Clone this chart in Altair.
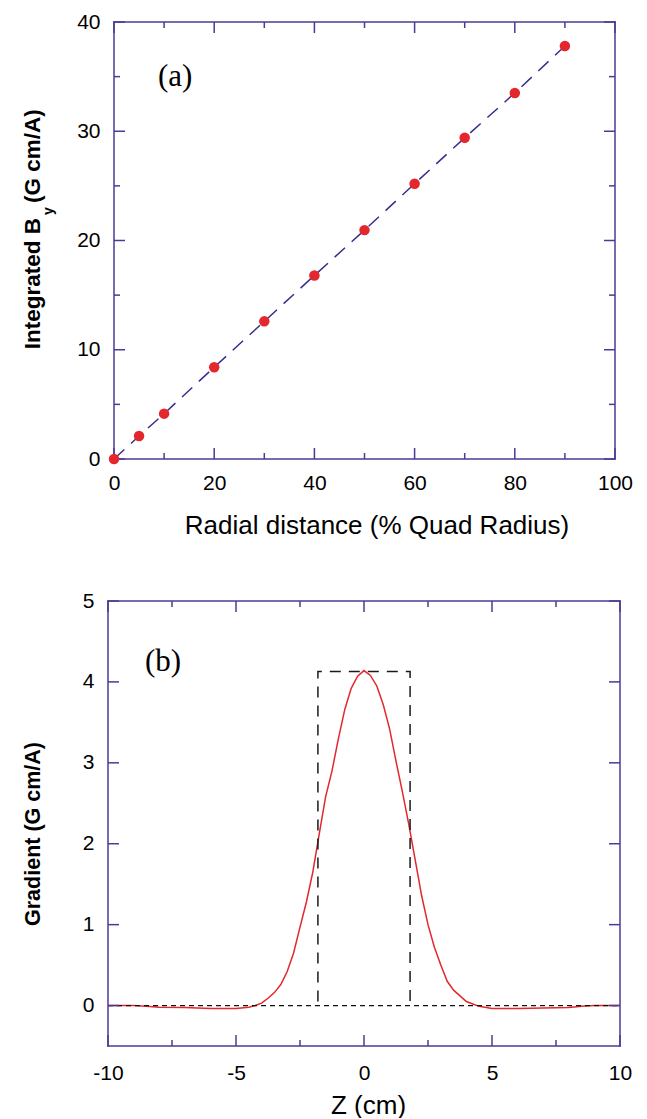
import altair as alt
import pandas as pd

# ---------------- data: panel (a) ----------------
radial_pct = [0, 5, 10, 20, 30, 40, 50, 60, 70, 80, 90]
integrated_by = [0.0, 2.1, 4.15, 8.4, 12.6, 16.8, 20.95, 25.2, 29.4, 33.5, 37.8]

# ---------------- data: panel (b) ----------------
z_cm = [-10, -9, -8.5, -8, -7, -6, -5, -4.5, -4.25, -4, -3.75, -3.5, -3.25, -3,
        -2.75, -2.5, -2.25, -2, -1.75, -1.5, -1.25, -1, -0.75, -0.5, -0.25, 0,
        0.25, 0.5, 0.75, 1, 1.25, 1.5, 1.75, 2, 2.25, 2.5, 2.75, 3, 3.25, 3.5,
        3.75, 4, 4.25, 4.5, 5, 6, 7, 8, 8.5, 9, 10]
gradient = [0, 0, -0.01, -0.02, -0.025, -0.035, -0.035, -0.02, 0.0, 0.03, 0.09,
            0.16, 0.26, 0.42, 0.65, 0.97, 1.28, 1.65, 2.12, 2.58, 2.9, 3.3, 3.66,
            3.92, 4.07, 4.14, 4.08, 3.95, 3.72, 3.42, 3.02, 2.64, 2.24, 1.8, 1.36,
            1.0, 0.72, 0.5, 0.3, 0.19, 0.12, 0.05, 0.02, -0.01, -0.035, -0.035,
            -0.03, -0.025, -0.01, 0, 0]
box_z = [-1.8, -1.8, 1.8, 1.8]
box_g = [0.05, 4.13, 4.13, 0.05]
box_order = [0, 1, 2, 3]
zero_z = [-10, 10]
zero_g = [0, 0]

# axis domains, ticks and labels
a_x_domain = [0, 100]
a_y_domain = [0, 40]
b_x_domain = [-10, 10]
b_y_domain = [-0.5, 5]
a_x_labels = [0, 20, 40, 60, 80, 100]
a_x_minor = [10, 30, 50, 70, 90]
a_y_labels = [0, 10, 20, 30, 40]
a_y_minor = [5, 15, 25, 35]
b_x_labels = [-10, -5, 0, 5, 10]
b_x_minor = [-7.5, -2.5, 2.5, 7.5]
b_y_labels = [0, 1, 2, 3, 4, 5]

panel_a_tag = ["(a)"]
panel_a_tag_x = [12.2]
panel_a_tag_y = [35.0]
panel_b_tag = ["(b)"]
panel_b_tag_x = [-7.85]
panel_b_tag_y = [4.25]

FRAME = "#4b3a96"
LINE = "#3a2c8c"
RED = "#e3272d"
FONT = "Liberation Sans"
SERIF = "Liberation Serif"

# view geometry: panel (a) plot area starts OFF_A px right of the shared column edge
OFF_A = 6
WA, HA = 501, 437
WB, HB = 512, 445
MAJ, MIN = 11, 6


def axis(vals, title, lp, tp, tsize, tx=None, expr=None):
    kw = dict(values=vals, ticks=False, tickSize=0, domain=False, grid=False,
              labelPadding=lp, labelFont=FONT, labelFontSize=21, labelColor="black",
              labelFlush=False, labelOverlap=False)
    if title:
        kw.update(title=title, titlePadding=tp, titleFont=FONT, titleFontSize=tsize,
                  titleFontWeight="normal", titleColor="black")
    else:
        kw.update(title="")
    if tx is not None:
        kw.update(titleX=tx)
    if expr:
        kw.update(labelExpr=expr)
    return alt.Axis(**kw)


hy = "datum.value < 0 ? '-' + abs(datum.value) : '' + datum.value"

xa = alt.Scale(domain=a_x_domain, nice=False, range=[OFF_A, OFF_A + WA])
ya = alt.Scale(domain=a_y_domain, nice=False)
xb = alt.Scale(domain=b_x_domain, nice=False)
yb = alt.Scale(domain=b_y_domain, nice=False)
AXA = axis(a_x_labels, "Radial distance (% Quad Radius)", 13, 19, 26, tx=OFF_A + WA / 2 + 12)
AYA = axis(a_y_labels, None, 14 - OFF_A, 0, 0)
AXB = axis(b_x_labels, "Z (cm)", 16, 9, 26, tx=WB / 2 + 4, expr=hy)
AYB = axis(b_y_labels, None, 14, 0, 0)


def X(field, scale, ax):
    return alt.X(field, scale=scale, axis=ax, title=ax.title)


def Y(field, scale, ax):
    return alt.Y(field, scale=scale, axis=ax, title=ax.title)


def tick_layers(vals, scale, ax, x0, W, H, L, axis_ch):
    d = pd.DataFrame({"v": vals})
    base = alt.Chart(d).mark_rule(color=FRAME, strokeWidth=1.5)
    if axis_ch == "x":
        enc = X("v:Q", scale, ax)
        return [base.encode(x=enc, y=alt.value(H), y2=alt.value(H - L)),
                base.encode(x=enc, y=alt.value(0), y2=alt.value(L))]
    enc = Y("v:Q", scale, ax)
    return [base.encode(y=enc, x=alt.value(x0), x2=alt.value(x0 + L)),
            base.encode(y=enc, x=alt.value(x0 + W), x2=alt.value(x0 + W - L))]


def frame_layers(xdom, ydom, xs, ys, axx, axy, H):
    hd = pd.DataFrame({"x0": [xdom[0]], "x1": [xdom[1]]})
    vd = pd.DataFrame({"x": xdom})
    out = []
    for yv in (0, H):
        out.append(alt.Chart(hd).mark_rule(color=FRAME, strokeWidth=1.5, strokeCap="square").encode(
            x=X("x0:Q", xs, axx), x2="x1:Q", y=alt.value(yv)))
    out.append(alt.Chart(vd).mark_rule(color=FRAME, strokeWidth=1.5, strokeCap="square").encode(
        x=X("x:Q", xs, axx), y=Y("y0:Q", ys, axy), y2="y1:Q").transform_calculate(
        y0=str(ydom[0]), y1=str(ydom[1])))
    return out


# ---------------- panel (a) ----------------
df_a = pd.DataFrame({"r": radial_pct, "b": integrated_by})

line_a = alt.Chart(df_a).mark_line(color=LINE, strokeWidth=1.5, strokeDash=[14, 9]).encode(
    x=X("r:Q", xa, AXA), y=Y("b:Q", ya, AYA))
pts_a = alt.Chart(df_a).mark_circle(size=110, color=RED, opacity=1).encode(
    x=X("r:Q", xa, AXA), y=Y("b:Q", ya, AYA))
tag_a = alt.Chart(pd.DataFrame({"t": panel_a_tag, "x": panel_a_tag_x, "y": panel_a_tag_y})).mark_text(
    font=SERIF, fontSize=31, align="center", baseline="middle", color="black"
).encode(x=X("x:Q", xa, AXA), y=Y("y:Q", ya, AYA), text="t:N")

yt1 = alt.Chart(pd.DataFrame({"t": ["Integrated B"]})).mark_text(
    angle=270, align="right", baseline="alphabetic", font=FONT, fontSize=22.5,
    fontWeight="bold", color="black").encode(text="t:N", x=alt.value(-68), y=alt.value(196))
yt2 = alt.Chart(pd.DataFrame({"t": ["y"]})).mark_text(
    angle=270, align="left", baseline="alphabetic", font=FONT, fontSize=14,
    fontWeight="bold", color="black").encode(text="t:N", x=alt.value(-55), y=alt.value(193))
yt3 = alt.Chart(pd.DataFrame({"t": ["(G cm/A)"]})).mark_text(
    angle=270, align="left", baseline="alphabetic", font=FONT, fontSize=22.5,
    fontWeight="bold", color="black").encode(text="t:N", x=alt.value(-68), y=alt.value(181))

layers_a = [line_a]
layers_a += frame_layers(a_x_domain, a_y_domain, xa, ya, AXA, AYA, HA)
layers_a += tick_layers(a_x_labels, xa, AXA, OFF_A, WA, HA, MAJ, "x")
layers_a += tick_layers(a_x_minor, xa, AXA, OFF_A, WA, HA, MIN, "x")
layers_a += tick_layers(a_y_labels, ya, AYA, OFF_A, WA, HA, MAJ, "y")
layers_a += tick_layers(a_y_minor, ya, AYA, OFF_A, WA, HA, MIN, "y")
layers_a += [pts_a, tag_a, yt1, yt2, yt3]
panel_a = alt.layer(*layers_a).properties(width=WA + OFF_A, height=HA)

# ---------------- panel (b) ----------------
df_b = pd.DataFrame({"z": z_cm, "g": gradient})

curve_b = alt.Chart(df_b).mark_line(color=RED, strokeWidth=1.5).encode(
    x=X("z:Q", xb, AXB), y=Y("g:Q", yb, AYB))
zero_b = alt.Chart(pd.DataFrame({"z": zero_z, "g": zero_g})).mark_line(
    color="#111111", strokeWidth=1.2, strokeDash=[5, 4]).encode(
    x=X("z:Q", xb, AXB), y=Y("g:Q", yb, AYB))
box_b = alt.Chart(pd.DataFrame({"z": box_z, "g": box_g, "o": box_order})).mark_line(
    color="#1a1a1a", strokeWidth=1.5, strokeDash=[11, 8]).encode(
    x=X("z:Q", xb, AXB), y=Y("g:Q", yb, AYB), order="o:Q")
tag_b = alt.Chart(pd.DataFrame({"t": panel_b_tag, "x": panel_b_tag_x, "y": panel_b_tag_y})).mark_text(
    font=SERIF, fontSize=31, align="center", baseline="middle", color="black"
).encode(x=X("x:Q", xb, AXB), y=Y("y:Q", yb, AYB), text="t:N")
ytb = alt.Chart(pd.DataFrame({"t": ["Gradient (G cm/A)"]})).mark_text(
    angle=270, align="center", baseline="alphabetic", font=FONT, fontSize=21.5,
    fontWeight="bold", color="black").encode(text="t:N", x=alt.value(-68), y=alt.value(233))

layers_b = [curve_b, zero_b, box_b]
layers_b += frame_layers(b_x_domain, b_y_domain, xb, yb, AXB, AYB, HB)
layers_b += tick_layers(b_x_labels, xb, AXB, 0, WB, HB, MAJ, "x")
layers_b += tick_layers(b_x_minor, xb, AXB, 0, WB, HB, MIN, "x")
layers_b += tick_layers(b_y_labels, yb, AYB, 0, WB, HB, MAJ, "y")
layers_b += [tag_b, ytb]
panel_b = alt.layer(*layers_b).properties(width=WB, height=HB)

chart = alt.vconcat(panel_a, panel_b, spacing=52).properties(
    padding={"left": 14, "top": 3, "right": 5, "bottom": 0}
).configure_view(stroke=None)

chart.save("out.html", embed_options={"renderer": "svg", "actions": False})
